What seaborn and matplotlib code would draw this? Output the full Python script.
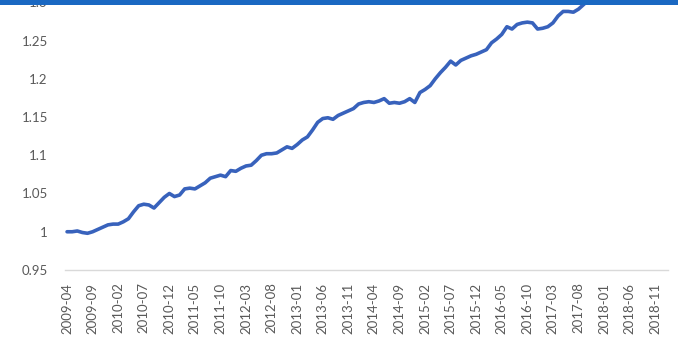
import matplotlib
matplotlib.use("Agg")
import matplotlib.pyplot as plt
import seaborn as sns
import pandas as pd
from matplotlib.patches import Rectangle

# ---- data ----
start_month = "2009-04"
n_categories = 118  # 2009-04 .. 2019-01 on the category axis
values = [
    1.000, 1.000, 1.001, 0.999, 0.998, 1.000, 1.003, 1.006, 1.009, 1.010,
    1.010, 1.013, 1.017, 1.026, 1.034, 1.036, 1.035, 1.031, 1.038, 1.045,
    1.050, 1.046, 1.048, 1.056, 1.057, 1.056, 1.060, 1.064, 1.070, 1.072,
    1.074, 1.072, 1.080, 1.079, 1.083, 1.086, 1.087, 1.093, 1.100, 1.102,
    1.102, 1.103, 1.107, 1.111, 1.109, 1.114, 1.120, 1.124, 1.133, 1.143,
    1.148, 1.149, 1.147, 1.152, 1.155, 1.158, 1.161, 1.167, 1.169, 1.170,
    1.169, 1.171, 1.174, 1.168, 1.169, 1.168, 1.170, 1.174, 1.169, 1.182,
    1.186, 1.191, 1.200, 1.208, 1.215, 1.223, 1.218, 1.224, 1.227, 1.230,
    1.232, 1.235, 1.238, 1.247, 1.252, 1.258, 1.268, 1.265, 1.271, 1.273,
    1.274, 1.273, 1.265, 1.266, 1.268, 1.273, 1.282, 1.288, 1.288, 1.287,
    1.291, 1.297, 1.303, 1.310,
]
y_ticks = [0.95, 1.0, 1.05, 1.1, 1.15, 1.2, 1.25, 1.3]
y_tick_labels = ["0.95", "1", "1.05", "1.1", "1.15", "1.2", "1.25", "1.3"]

months = pd.period_range(start_month, periods=n_categories, freq="M")
month_labels = [p.strftime("%Y-%m") for p in months]
df = pd.DataFrame({"idx": range(len(values)), "value": values})

# ---- plot ----
sns.set_theme(style="white")
plt.rcParams["font.family"] = ["Lato", "DejaVu Sans"]

W, H = 678, 348
fig = plt.figure(figsize=(W / 100, H / 100), dpi=100)
ax = fig.add_axes([64.5 / W, 78 / H, (668 - 64.5) / W, (H + 36 - 78) / H])

sns.lineplot(data=df, x="idx", y="value", ax=ax, color="#3862bc",
             linewidth=2.6, solid_joinstyle="round", solid_capstyle="round")

ax.set_xlim(-0.5, n_categories - 0.5)
ax.set_ylim(0.95, 1.35)
ax.set_yticks(y_ticks)
ax.set_yticklabels(y_tick_labels)
tick_pos = list(range(0, 116, 5))
ax.set_xticks(tick_pos)
ax.set_xticklabels([month_labels[i] for i in tick_pos], rotation=90)
ax.set_xlabel("")
ax.set_ylabel("")

for s in ["top", "right", "left"]:
    ax.spines[s].set_visible(False)
ax.spines["bottom"].set_color("#d9d9d9")
ax.spines["bottom"].set_linewidth(1.0)
ax.tick_params(axis="both", length=0, colors="#595959", labelsize=9.5)
ax.tick_params(axis="x", pad=9)
ax.tick_params(axis="y", pad=12)
ax.grid(False)

# header bar at the top (cropped title band)
fig.patches.append(Rectangle((0, 1 - 4.5 / H), 1, 4.5 / H + 0.01,
                             transform=fig.transFigure, facecolor="#1a68c2",
                             edgecolor="none", zorder=10))

fig.savefig("out.png", dpi=100)
